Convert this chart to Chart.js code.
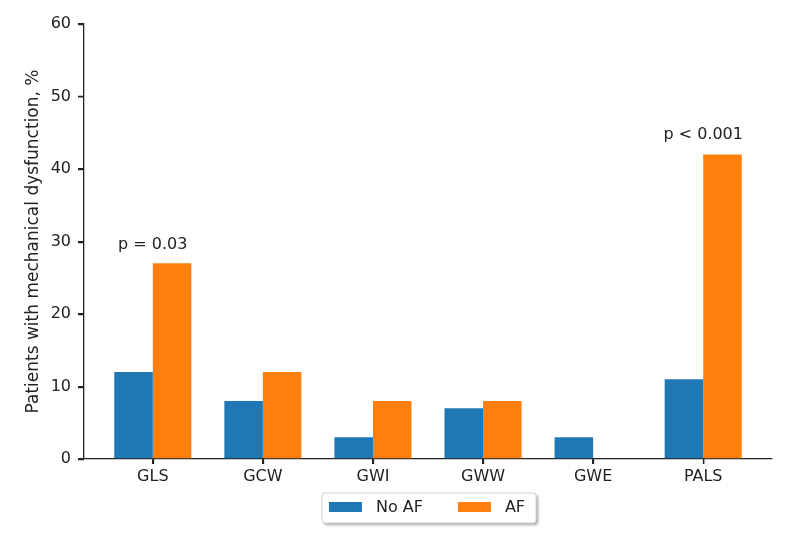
<!DOCTYPE html>
<html>
<head>
<meta charset="utf-8">
<script src="https://cdn.jsdelivr.net/npm/chart.js@4.4.1/dist/chart.umd.min.js"></script>
<style>
html,body{margin:0;padding:0;background:#fff;}
canvas{display:block;}
</style>
</head>
<body>
<canvas id="c" width="803" height="536"></canvas>
<script>
const categories = ["GLS", "GCW", "GWI", "GWW", "GWE", "PALS"];
const noAF = [12, 8, 3, 7, 3, 11];
const af = [27, 12, 8, 8, 0, 42];
const yTicks = [0, 10, 20, 30, 40, 50, 60];
const annotations = [
  {index: 0, y: 29.0, text: "p = 0.03"},
  {index: 5, y: 44.1, text: "p < 0.001"}
];

const FONT = "'DejaVu Sans', sans-serif";
const TXT = "#222";

const annotPlugin = {
  id: 'annot',
  afterDatasetsDraw(chart) {
    const ctx = chart.ctx, xs = chart.scales.x, ys = chart.scales.y;
    ctx.save();
    ctx.font = "16px " + FONT;
    ctx.fillStyle = TXT;
    ctx.textAlign = "center";
    ctx.textBaseline = "alphabetic";
    annotations.forEach(a => {
      ctx.fillText(a.text, xs.getPixelForValue(a.index), ys.getPixelForValue(a.y));
    });
    ctx.restore();
  }
};

// Tick marks drawn explicitly at the scales' tick positions
const tickMarks = {
  id: 'tickMarks',
  afterDraw(chart) {
    const ctx = chart.ctx, xs = chart.scales.x, ys = chart.scales.y, a = chart.chartArea;
    ctx.save();
    ctx.strokeStyle = "#222";
    ctx.lineWidth = 1.3;
    ctx.beginPath();
    xs.ticks.forEach(t => {
      const px = Math.round(xs.getPixelForValue(t.value)) + 0.5;
      ctx.moveTo(px, a.bottom);
      ctx.lineTo(px, a.bottom + 5);
    });
    ys.ticks.forEach(t => {
      const py = Math.round(ys.getPixelForValue(t.value)) + 0.5;
      ctx.moveTo(a.left, py);
      ctx.lineTo(a.left - 6, py);
    });
    ctx.stroke();
    ctx.restore();
  }
};

// Custom legend (framed legend under the axis)
const customLegend = {
  id: 'customLegend',
  afterDraw(chart) {
    const ctx = chart.ctx;
    const area = chart.chartArea;
    const ds = chart.data.datasets;
    const patchW = 33, patchH = 10, gapText = 14, gapItem = 35;
    ctx.save();
    ctx.font = "16px " + FONT;
    const widths = ds.map(d => ctx.measureText(d.label).width);
    let total = 0;
    ds.forEach((d, i) => { total += patchW + gapText + widths[i]; if (i < ds.length - 1) total += gapItem; });
    const cx = (area.left + area.right) / 2 - 1;
    const startX = cx - total / 2;
    const cy = 507;
    const fl = startX - 7, fr = startX + total + 11, ft = 493, fb = 523;
    ctx.shadowColor = "rgba(0,0,0,0.35)";
    ctx.shadowBlur = 3;
    ctx.shadowOffsetX = 2;
    ctx.shadowOffsetY = 2;
    ctx.fillStyle = "#fff";
    ctx.beginPath();
    ctx.roundRect(fl, ft, fr - fl, fb - ft, 3);
    ctx.fill();
    ctx.shadowColor = "transparent";
    ctx.strokeStyle = "#cfcfcf";
    ctx.lineWidth = 1;
    ctx.stroke();
    let x = startX;
    ds.forEach((d, i) => {
      ctx.fillStyle = d.backgroundColor;
      ctx.fillRect(x, cy - patchH / 2, patchW, patchH);
      x += patchW + gapText;
      ctx.fillStyle = TXT;
      ctx.textAlign = "left";
      ctx.textBaseline = "middle";
      ctx.fillText(d.label, x, cy + 1);
      x += widths[i] + gapItem;
    });
    ctx.restore();
  }
};

new Chart(document.getElementById('c'), {
  type: 'bar',
  data: {
    datasets: [
      {label: "No AF", data: noAF.map((v, i) => ({x: i, y: v})), backgroundColor: "#1f77b4", borderWidth: 0},
      {label: "AF", data: af.map((v, i) => ({x: i, y: v})), backgroundColor: "#ff7f0e", borderWidth: 0}
    ]
  },
  options: {
    responsive: false,
    animation: false,
    layout: {padding: {left: 0, right: 31, top: 24, bottom: 47}},
    datasets: {bar: {categoryPercentage: 0.7, barPercentage: 1.0}},
    scales: {
      x: {
        type: 'linear',
        offset: false,
        min: -0.625,
        max: 5.625,
        afterBuildTicks: (axis) => { axis.ticks = categories.map((_, i) => ({value: i})); },
        afterFit: (scale) => { scale.height = 30; },
        ticks: {
          callback: (v) => categories[v],
          font: {family: FONT, size: 16},
          color: TXT,
          padding: 3,
          maxRotation: 0,
          autoSkip: false
        },
        grid: {offset: false, drawOnChartArea: false, drawTicks: true, tickLength: 5, color: "#222", lineWidth: 1.3},
        border: {display: true, color: "#222", width: 1.3}
      },
      y: {
        min: 0,
        max: 60,
        afterBuildTicks: (axis) => { axis.ticks = yTicks.map(v => ({value: v})); },
        afterFit: (scale) => { scale.width = 84; },
        ticks: {
          font: {family: FONT, size: 16},
          color: TXT,
          padding: 7
        },
        grid: {drawOnChartArea: false, drawTicks: true, tickLength: 6, color: "#222", lineWidth: 1.3},
        border: {display: true, color: "#222", width: 1.3},
        title: {
          display: true,
          text: "Patients with mechanical dysfunction, %",
          font: {family: FONT, size: 17},
          color: TXT,
          padding: {top: 23, bottom: 0}
        }
      }
    },
    plugins: {
      legend: {display: false},
      tooltip: {enabled: false}
    }
  },
  plugins: [annotPlugin, tickMarks, customLegend]
});
</script>
</body>
</html>
